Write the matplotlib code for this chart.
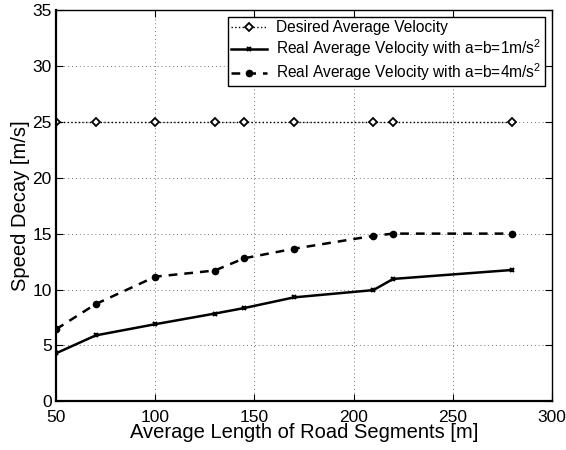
import numpy as np
import matplotlib
matplotlib.use("Agg")
import matplotlib.pyplot as plt

plt.rcParams['font.family'] = ['Liberation Sans', 'DejaVu Sans']
plt.rcParams['mathtext.fontset'] = 'custom'
plt.rcParams['mathtext.rm'] = 'Liberation Sans'
plt.rcParams['mathtext.it'] = 'Liberation Sans'

# data
road_len = [50, 70, 100, 130, 145, 170, 210, 220, 280]
desired = [25, 25, 25, 25, 25, 25, 25, 25, 25]
real_a1 = [4.3, 5.9, 6.9, 7.85, 8.35, 9.3, 9.95, 10.95, 11.75]
real_a4 = [6.45, 8.7, 11.15, 11.7, 12.8, 13.65, 14.8, 15.0, 15.0]

fig = plt.figure(figsize=(5.66, 4.5), dpi=100)
ax = fig.add_axes([0.099, 0.108, 0.876, 0.87])

ax.plot(road_len, desired, color='k', linestyle=':', linewidth=1.0,
        marker='D', markersize=4.5, markerfacecolor='white', markeredgecolor='k',
        markeredgewidth=1.3, label='Desired Average Velocity')
ax.plot(road_len, real_a1, color='k', linestyle='-', linewidth=1.8,
        marker='x', markersize=3.5, markeredgewidth=1.5,
        label='Real Average Velocity with a=b=1m/s$^2$')
ax.plot(road_len, real_a4, color='k', linestyle='--', linewidth=1.8,
        dashes=(3.5, 2.8), marker='o', markersize=4.5,
        label='Real Average Velocity with a=b=4m/s$^2$')

ax.set_xlim(50, 300)
ax.set_ylim(0, 35)
ax.set_xticks([50, 100, 150, 200, 250, 300])
ax.set_yticks(np.arange(0, 36, 5))
ax.grid(True, linestyle=(0, (1, 3)), color='k', linewidth=0.7, alpha=0.55)
ax.tick_params(direction='in', labelsize=12.5, length=5, top=True, right=True)
ax.tick_params(axis='x', pad=6)
ax.tick_params(axis='y', pad=3)
for side in ['top', 'right']:
    ax.spines[side].set_linewidth(1.0)
for side in ['left', 'bottom']:
    ax.spines[side].set_linewidth(1.6)

ax.set_xlabel('Average Length of Road Segments [m]', fontsize=14.5, labelpad=-1)
ax.set_ylabel('Speed Decay [m/s]', fontsize=14.5, labelpad=2)

leg = ax.legend(loc='upper right', fontsize=11.2, fancybox=False, framealpha=1,
                edgecolor='k', borderaxespad=0.45, handlelength=2.3, numpoints=1,
                handletextpad=0.6, borderpad=0.2, labelspacing=0.15)
leg.get_frame().set_linewidth(1.0)

fig.savefig('out.png', dpi=100)
